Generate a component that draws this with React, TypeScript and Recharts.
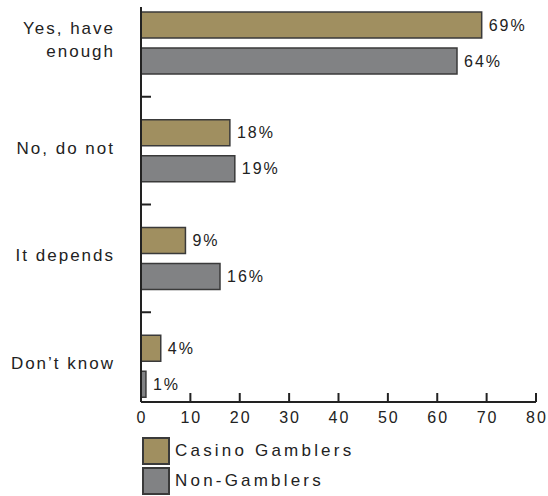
import { BarChart, Bar, XAxis, YAxis, LabelList } from 'recharts'

const categories = ['Yes, have\nenough', 'No, do not', 'It depends', 'Don’t know']
const casinoGamblers = [69, 18, 9, 4]
const nonGamblers = [64, 19, 16, 1]
const xTicks = [0, 10, 20, 30, 40, 50, 60, 70, 80]

const GOLD = '#a08f60'
const GRAY = '#818284'
const EDGE = '#3a3a3a'
const INK = '#222222'
const FONT = '"Liberation Sans", Arial, sans-serif'

const data = categories.map((name, i) => ({
  name,
  casino: casinoGamblers[i],
  non: nonGamblers[i],
}))

function CategoryTick({ x, y, payload, index }: any) {
  const lines = String(payload.value).split('\n')
  const half = payload.offset || 54
  const lineH = 23
  const startY = y - ((lines.length - 1) * lineH) / 2 - 3
  return (
    <g>
      <text
        x={x - 26}
        y={startY}
        textAnchor="end"
        dominantBaseline="central"
        fontFamily={FONT}
        fontSize={17}
        letterSpacing={2}
        fill={INK}
      >
        {lines.map((l, i) => (
          <tspan key={i} x={x - 26} y={startY + i * lineH}>
            {l}
          </tspan>
        ))}
      </text>
      {index < categories.length - 1 && (
        <line x1={x} x2={x + 10} y1={y + half} y2={y + half} stroke={INK} strokeWidth={2} />
      )}
    </g>
  )
}

function ValueTick({ x, y, payload }: any) {
  return (
    <g>
      <line x1={x} x2={x} y1={y - 9} y2={y} stroke={INK} strokeWidth={2} />
      <text
        x={x + 1}
        y={y + 15}
        textAnchor="middle"
        dominantBaseline="central"
        fontFamily={FONT}
        fontSize={16}
        letterSpacing={2}
        fill={INK}
      >
        {payload.value}
      </text>
    </g>
  )
}

function LegendRow({ color, label, top }: { color: string; label: string; top: number }) {
  return (
    <div style={{ position: 'absolute', left: 142, top, display: 'flex', alignItems: 'center' }}>
      <span
        style={{
          width: 24,
          height: 24,
          background: color,
          border: `2px solid ${EDGE}`,
          display: 'inline-block',
        }}
      />
      <span
        style={{
          marginLeft: 5,
          fontFamily: FONT,
          fontSize: 17,
          letterSpacing: 3.2,
          color: INK,
        }}
      >
        {label}
      </span>
    </div>
  )
}

export default function App() {
  const labelStyle = { fontFamily: FONT, fontSize: 16, letterSpacing: 2, fill: INK }
  return (
    <div style={{ position: 'absolute', left: 0, top: 0, width: 548, height: 496, background: '#fff' }}>
      <BarChart
        width={548}
        height={496}
        data={data}
        layout="vertical"
        margin={{ top: 7, right: 12, bottom: 64, left: 0 }}
        barSize={26}
        barGap={10}
      >
        <XAxis
          type="number"
          domain={[0, 80]}
          ticks={xTicks}
          height={30}
          tickSize={0}
          tickMargin={0}
          tickLine={false}
          axisLine={{ stroke: INK, strokeWidth: 2 }}
          tick={<ValueTick />}
          interval={0}
        />
        <YAxis
          type="category"
          dataKey="name"
          width={141}
          tickSize={0}
          tickMargin={0}
          tickLine={false}
          padding={{ top: -18, bottom: -18 }}
          axisLine={{ stroke: INK, strokeWidth: 2 }}
          tick={<CategoryTick />}
          interval={0}
        />
        <Bar dataKey="casino" fill={GOLD} stroke={EDGE} strokeWidth={1.5} isAnimationActive={false}>
          <LabelList dataKey="casino" position="right" offset={7} formatter={(v: any) => `${v}%`} style={labelStyle} />
        </Bar>
        <Bar dataKey="non" fill={GRAY} stroke={EDGE} strokeWidth={1.5} isAnimationActive={false}>
          <LabelList dataKey="non" position="right" offset={7} formatter={(v: any) => `${v}%`} style={labelStyle} />
        </Bar>
      </BarChart>
      <LegendRow color={GOLD} label="Casino Gamblers" top={437} />
      <LegendRow color={GRAY} label="Non-Gamblers" top={467} />
    </div>
  )
}
